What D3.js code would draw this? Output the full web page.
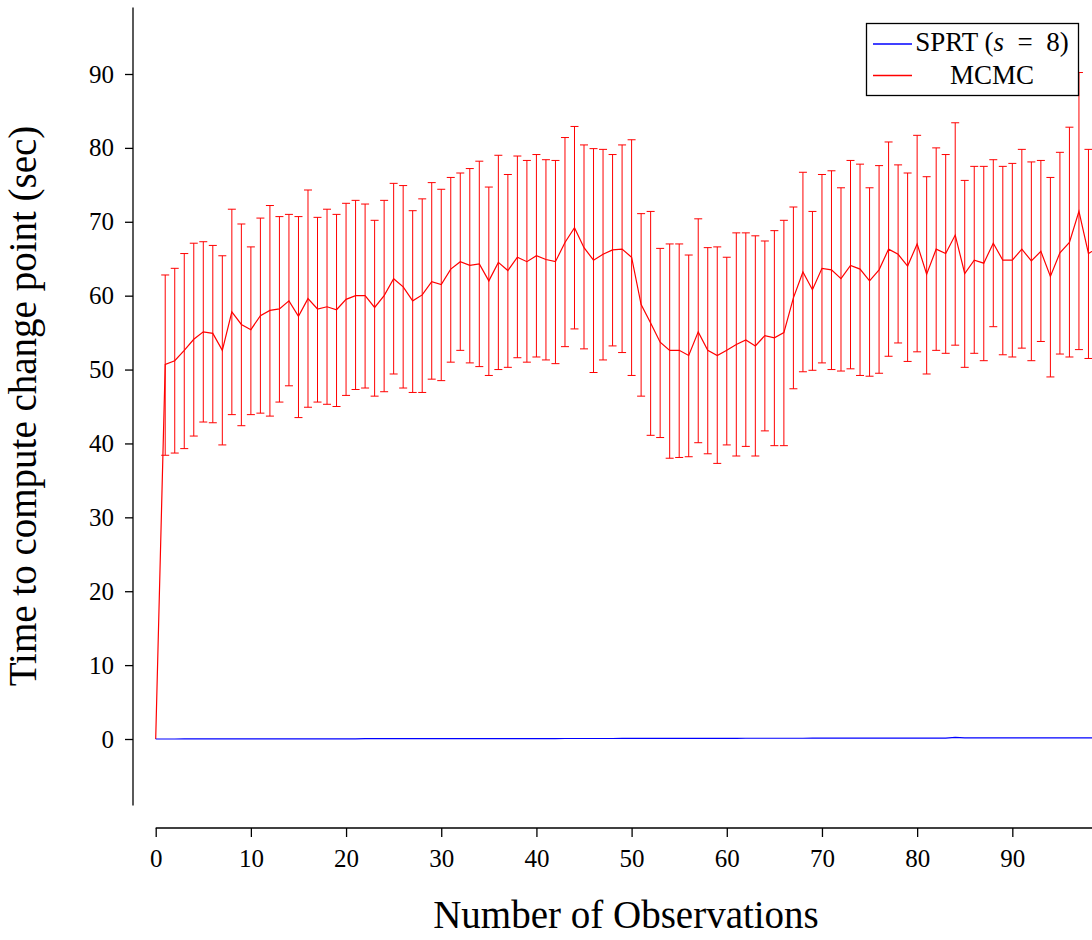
<!DOCTYPE html>
<html>
<head>
<meta charset="utf-8">
<script src="https://cdn.jsdelivr.net/npm/d3@7"></script>
<style>
  body { margin: 0; background: #fff; }
  text { font-family: "Liberation Serif", "Times New Roman", serif; fill: #000; }
</style>
</head>
<body>
<div id="chart"></div>
<script>
// Mittelwert, obere und untere Grenze der MCMC-Zeiten (Index = Anzahl Beobachtungen)
var mcmcMean = [0, 50.7, 51.2, 52.6, 54.1, 55.1, 54.9, 52.6, 57.8, 56.1,
  55.4, 57.3, 58.0, 58.2, 59.3, 57.2, 59.6, 58.2, 58.5, 58.1,
  59.5, 60.0, 60.0, 58.4, 60.0, 62.3, 61.2, 59.3, 60.1, 61.9,
  61.5, 63.6, 64.6, 64.1, 64.3, 62.0, 64.5, 63.4, 65.2, 64.6,
  65.4, 64.9, 64.6, 67.2, 69.2, 66.5, 64.8, 65.6, 66.2, 66.3,
  65.2, 58.8, 56.3, 53.7, 52.6, 52.6, 51.9, 55.1, 52.6, 51.9,
  52.6, 53.4, 54.0, 53.2, 54.6, 54.3, 55.0, 59.7, 63.2, 60.8,
  63.7, 63.5, 62.3, 64.1, 63.6, 62.0, 63.5, 66.3, 65.6, 64.0,
  67.0, 62.9, 66.3, 65.7, 68.2, 63.0, 64.8, 64.4, 67.1, 64.8,
  64.8, 66.3, 64.7, 66.0, 62.6, 65.8, 67.2, 71.4, 65.7, 66.5];

var mcmcUpper = [0, 62.8, 63.7, 65.7, 67.1, 67.3, 66.8, 65.4, 71.7, 69.7,
  66.6, 70.5, 72.2, 70.7, 71.0, 70.7, 74.3, 70.6, 71.7, 71.0,
  72.5, 72.9, 72.4, 70.2, 72.9, 75.2, 74.9, 71.5, 73.1, 75.3,
  74.4, 76.0, 76.6, 77.2, 78.2, 74.7, 79.0, 76.4, 78.9, 78.3,
  79.1, 78.4, 78.3, 81.4, 82.9, 80.4, 79.9, 79.8, 79.1, 80.4,
  81.1, 71.1, 71.4, 66.4, 67.0, 67.0, 65.5, 70.4, 66.5, 66.6,
  65.2, 68.5, 68.5, 68.1, 67.4, 68.8, 70.2, 72.0, 76.7, 71.4,
  76.4, 76.9, 74.6, 78.3, 77.8, 74.6, 77.6, 80.8, 77.7, 76.6,
  81.7, 76.1, 80.0, 79.1, 83.4, 75.6, 77.5, 77.5, 78.4, 77.5,
  77.9, 79.8, 78.1, 78.3, 76.0, 79.4, 82.8, 90.2, 79.8, 80.0];

var mcmcLower = [0, 38.4, 38.7, 39.3, 41.0, 42.9, 42.8, 39.8, 43.9, 42.4,
  43.9, 44.1, 43.7, 45.6, 47.8, 43.5, 44.9, 45.6, 45.3, 45.0,
  46.5, 47.3, 47.5, 46.4, 47.0, 49.4, 47.5, 46.9, 46.9, 48.7,
  48.5, 51.0, 52.6, 50.9, 50.4, 49.2, 50.0, 50.3, 51.6, 51.0,
  51.7, 51.3, 50.8, 53.1, 55.5, 52.8, 49.6, 51.3, 53.2, 52.3,
  49.2, 46.4, 41.1, 40.8, 38.0, 38.1, 38.2, 40.1, 38.6, 37.3,
  39.8, 38.3, 39.6, 38.3, 41.7, 39.7, 39.7, 47.4, 49.7, 49.9,
  50.9, 50.0, 49.8, 50.1, 49.2, 49.1, 49.5, 51.8, 53.6, 51.1,
  52.4, 49.4, 52.6, 52.2, 53.3, 50.3, 52.2, 51.2, 55.8, 52.0,
  51.7, 52.9, 51.2, 53.8, 49.0, 52.1, 51.7, 52.7, 51.5, 52.5];

// SPRT (s = 8) bleibt fast bei null
var sprtMean = [0.00, 0.00, 0.00, 0.01, 0.01, 0.01, 0.01, 0.01, 0.01, 0.02,
  0.02, 0.02, 0.02, 0.02, 0.02, 0.03, 0.03, 0.03, 0.03, 0.03,
  0.03, 0.03, 0.04, 0.04, 0.04, 0.04, 0.04, 0.04, 0.04, 0.05,
  0.05, 0.05, 0.05, 0.05, 0.05, 0.05, 0.06, 0.06, 0.06, 0.06,
  0.06, 0.06, 0.06, 0.07, 0.07, 0.07, 0.07, 0.07, 0.07, 0.08,
  0.08, 0.08, 0.08, 0.08, 0.08, 0.08, 0.09, 0.09, 0.09, 0.09,
  0.09, 0.09, 0.10, 0.10, 0.10, 0.10, 0.10, 0.10, 0.10, 0.11,
  0.11, 0.11, 0.11, 0.11, 0.11, 0.12, 0.12, 0.12, 0.12, 0.12,
  0.12, 0.13, 0.13, 0.13, 0.22, 0.14, 0.14, 0.14, 0.14, 0.14,
  0.15, 0.15, 0.15, 0.15, 0.15, 0.16, 0.16, 0.16, 0.16, 0.16];

var xTicks = [0, 10, 20, 30, 40, 50, 60, 70, 80, 90];
var yTicks = [0, 10, 20, 30, 40, 50, 60, 70, 80, 90];

var width = 1092, height = 940;

var svg = d3.select("#chart").append("svg")
    .attr("width", width).attr("height", height);

// Skalen
var x = d3.scaleLinear().domain([0, 100]).range([155.7, 1107.5]);
var y = d3.scaleLinear().domain([-9, 99]).range([805.5, 7.5]);

var obs = d3.range(mcmcMean.length);

// y-Achse (nach links versetzt)
var yAxis = svg.append("g").attr("transform", "translate(133,0)")
    .call(d3.axisLeft(y).tickValues(yTicks).tickSize(8).tickPadding(11).tickFormat(d3.format("d")));
yAxis.select(".domain").attr("d", "M0," + y(-9) + "V" + y(99)).attr("stroke-width", 1.3);
yAxis.selectAll(".tick line").attr("stroke-width", 1.3);
yAxis.selectAll(".tick text").style("font-size", "25px").attr("font-family", null);

// x-Achse (nach unten versetzt)
var xAxis = svg.append("g").attr("transform", "translate(0,828)")
    .call(d3.axisBottom(x).tickValues(xTicks).tickSize(9).tickPadding(12).tickFormat(d3.format("d")));
xAxis.select(".domain").attr("d", "M" + x(0) + ",0H" + x(100)).attr("stroke-width", 1.3);
xAxis.selectAll(".tick line").attr("stroke-width", 1.3);
xAxis.selectAll(".tick text").style("font-size", "25px").attr("font-family", null);

// Fehlerbalken MCMC
var bars = svg.append("g").attr("stroke", "#ff0000").attr("stroke-width", 1).attr("fill", "none");
var withBar = obs.filter(function(i){ return mcmcUpper[i] > mcmcLower[i]; });
bars.selectAll("line.err").data(withBar).enter().append("line").attr("class", "err")
    .attr("x1", function(i){ return x(i); }).attr("x2", function(i){ return x(i); })
    .attr("y1", function(i){ return y(mcmcLower[i]); })
    .attr("y2", function(i){ return y(mcmcUpper[i]); });
bars.selectAll("line.capTop").data(withBar).enter().append("line").attr("class", "capTop")
    .attr("x1", function(i){ return x(i) - 4; }).attr("x2", function(i){ return x(i) + 4; })
    .attr("y1", function(i){ return y(mcmcUpper[i]); })
    .attr("y2", function(i){ return y(mcmcUpper[i]); });
bars.selectAll("line.capBot").data(withBar).enter().append("line").attr("class", "capBot")
    .attr("x1", function(i){ return x(i) - 4; }).attr("x2", function(i){ return x(i) + 4; })
    .attr("y1", function(i){ return y(mcmcLower[i]); })
    .attr("y2", function(i){ return y(mcmcLower[i]); });

// Linien
var mcmcLine = d3.line().x(function(i){ return x(i); }).y(function(i){ return y(mcmcMean[i]); });
var sprtLine = d3.line().x(function(i){ return x(i); }).y(function(i){ return y(sprtMean[i]); });

svg.append("path").datum(obs).attr("d", mcmcLine)
    .attr("fill", "none").attr("stroke", "#ff0000").attr("stroke-width", 1.2);
svg.append("path").datum(d3.range(sprtMean.length)).attr("d", sprtLine)
    .attr("fill", "none").attr("stroke", "#0000ff").attr("stroke-width", 1.2);

// Achsentitel
svg.append("text").attr("x", 626).attr("y", 928).attr("text-anchor", "middle")
    .style("font-size", "39px").text("Number of Observations");
svg.append("text").attr("transform", "translate(36,406) rotate(-90)").attr("text-anchor", "middle")
    .style("font-size", "39px").text("Time to compute change point (sec)");

// Legende
var legend = svg.append("g");
legend.append("rect").attr("x", 866.5).attr("y", 23.5).attr("width", 212).attr("height", 72)
    .attr("fill", "#fff").attr("stroke", "#000").attr("stroke-width", 1.3);
legend.append("line").attr("x1", 873).attr("x2", 912).attr("y1", 44).attr("y2", 44)
    .attr("stroke", "#0000ff").attr("stroke-width", 1.4);
legend.append("line").attr("x1", 873).attr("x2", 912).attr("y1", 75.5).attr("y2", 75.5)
    .attr("stroke", "#ff0000").attr("stroke-width", 1.4);

var t1 = legend.append("text").attr("x", 992).attr("y", 51).attr("text-anchor", "middle")
    .style("font-size", "27px").attr("xml:space", "preserve");
t1.append("tspan").text("SPRT (");
t1.append("tspan").style("font-style", "italic").text("s");
t1.append("tspan").text("  =  8)");
legend.append("text").attr("x", 992).attr("y", 83.5).attr("text-anchor", "middle")
    .style("font-size", "27px").text("MCMC");
</script>
</body>
</html>
